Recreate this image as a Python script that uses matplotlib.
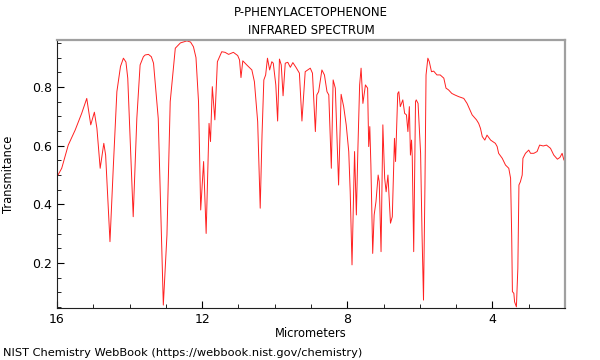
import matplotlib
matplotlib.use('Agg')
import matplotlib.pyplot as plt
from matplotlib.ticker import MultipleLocator

# wavelength (micrometers) and transmittance
wavelength = [16.00, 15.87, 15.69, 15.50, 15.32, 15.18, 15.07, 14.97, 14.90, 14.81,
              14.71, 14.66, 14.54, 14.45, 14.35, 14.25, 14.17, 14.10, 14.05, 13.90,
              13.80, 13.71, 13.62, 13.57, 13.48, 13.40, 13.34, 13.21, 13.07, 12.97,
              12.88, 12.74, 12.60, 12.42, 12.32, 12.24, 12.17, 12.10, 12.04, 11.96,
              11.89, 11.81, 11.77, 11.72, 11.65, 11.58, 11.46,
              11.37, 11.27, 11.14, 11.02, 10.97, 10.93, 10.88, 10.77, 10.63, 10.56,
              10.47, 10.40, 10.35, 10.30, 10.25, 10.20, 10.14, 10.08, 10.04, 9.97,
              9.92, 9.87, 9.82, 9.77, 9.71, 9.64, 9.57, 9.50, 9.41, 9.32,
              9.25, 9.16, 9.02, 8.96, 8.88, 8.84, 8.79, 8.70, 8.63, 8.56,
              8.51, 8.44, 8.39, 8.33, 8.24, 8.17, 8.10, 8.03, 7.96, 7.92,
              7.87, 7.83, 7.80, 7.75, 7.71, 7.66, 7.62, 7.57, 7.50, 7.44,
              7.41, 7.38, 7.35, 7.30, 7.26, 7.21, 7.15, 7.12, 7.07, 7.02,
              6.97, 6.93, 6.88, 6.81, 6.76, 6.70, 6.67, 6.61, 6.58, 6.54,
              6.47, 6.42, 6.37, 6.33, 6.29, 6.26, 6.23, 6.21, 6.17, 6.12,
              6.10, 6.05, 6.01, 5.98, 5.94, 5.90, 5.86, 5.83, 5.78, 5.74,
              5.68, 5.62, 5.53, 5.44, 5.34, 5.28, 5.21, 5.12, 5.04, 4.93,
              4.79, 4.70, 4.56, 4.44, 4.38, 4.33, 4.28, 4.21, 4.15, 4.05,
              3.92, 3.87, 3.83, 3.73, 3.64, 3.55, 3.50, 3.47, 3.45, 3.41,
              3.39, 3.34, 3.30, 3.27, 3.23, 3.18, 3.16, 3.09, 3.00, 2.95,
              2.86, 2.77, 2.70, 2.60, 2.51, 2.40, 2.31, 2.21, 2.14, 2.08,
              2.03, 1.99]
transmittance = [0.494, 0.523, 0.602, 0.653, 0.710, 0.761, 0.671, 0.714, 0.659, 0.523,
                 0.608, 0.568, 0.273, 0.523, 0.784, 0.870, 0.898, 0.885, 0.830, 0.358,
                 0.693, 0.875, 0.903, 0.909, 0.911, 0.903, 0.881, 0.693, 0.057, 0.296,
                 0.750, 0.932, 0.950, 0.957, 0.953, 0.937, 0.900, 0.750, 0.381, 0.546,
                 0.301, 0.676, 0.614, 0.801, 0.688, 0.886, 0.920,
                 0.918, 0.911, 0.918, 0.907, 0.892, 0.832, 0.889, 0.875, 0.858, 0.818,
                 0.682, 0.387, 0.636, 0.824, 0.841, 0.898, 0.858, 0.886, 0.881, 0.807,
                 0.684, 0.895, 0.875, 0.770, 0.881, 0.884, 0.867, 0.883, 0.866, 0.847,
                 0.684, 0.852, 0.864, 0.847, 0.648, 0.773, 0.784, 0.858, 0.841, 0.784,
                 0.773, 0.523, 0.824, 0.796, 0.466, 0.775, 0.733, 0.671, 0.580, 0.443,
                 0.194, 0.409, 0.580, 0.364, 0.580, 0.807, 0.864, 0.744, 0.807, 0.796,
                 0.597, 0.665, 0.534, 0.233, 0.364, 0.409, 0.500, 0.477, 0.239, 0.671,
                 0.489, 0.443, 0.500, 0.336, 0.358, 0.625, 0.546, 0.778, 0.784, 0.733,
                 0.756, 0.710, 0.705, 0.648, 0.733, 0.568, 0.619, 0.563, 0.239, 0.750,
                 0.756, 0.744, 0.648, 0.574, 0.296, 0.074, 0.466, 0.841, 0.898, 0.886,
                 0.852, 0.854, 0.841, 0.841, 0.830, 0.796, 0.790, 0.778, 0.773, 0.767,
                 0.761, 0.744, 0.705, 0.688, 0.676, 0.659, 0.631, 0.619, 0.636, 0.619,
                 0.608, 0.597, 0.574, 0.557, 0.534, 0.523, 0.489, 0.296, 0.103, 0.097,
                 0.068, 0.051, 0.182, 0.466, 0.477, 0.500, 0.557, 0.574, 0.585, 0.574,
                 0.574, 0.580, 0.602, 0.599, 0.602, 0.591, 0.568, 0.554, 0.560, 0.574,
                 0.551, 0.549]

fig = plt.figure(figsize=(6, 3.6), dpi=100, facecolor='white')
ax = fig.add_axes([0.095, 0.1444, 0.8467, 0.7445])

ax.plot(wavelength, transmittance, color='#ff2020', linewidth=0.7)

ax.set_xlim(16, 2)
ax.set_ylim(0.047, 0.96)
ax.xaxis.set_major_locator(MultipleLocator(4))
ax.xaxis.set_minor_locator(MultipleLocator(1))
ax.yaxis.set_major_locator(MultipleLocator(0.2))
ax.yaxis.set_minor_locator(MultipleLocator(0.05))
ax.tick_params(which='both', direction='in', top=False, right=False, labelsize=9)
ax.tick_params(which='major', length=5)
ax.tick_params(which='minor', length=3)

for side in ['top', 'right']:
    ax.spines[side].set_color('#a0a0a0')
    ax.spines[side].set_linewidth(1.6)
for side in ['left', 'bottom']:
    ax.spines[side].set_color('#202020')

ax.set_title('P-PHENYLACETOPHENONE\nINFRARED SPECTRUM', fontsize=8.5, pad=4, linespacing=1.5)
ax.set_xlabel('Micrometers', fontsize=8.3, labelpad=1)
ax.set_ylabel('Transmitance', fontsize=8.3, labelpad=12)
fig.text(0.005, 0.012, 'NIST Chemistry WebBook (https://webbook.nist.gov/chemistry)', fontsize=8.2)

fig.savefig('out.png', dpi=100)
